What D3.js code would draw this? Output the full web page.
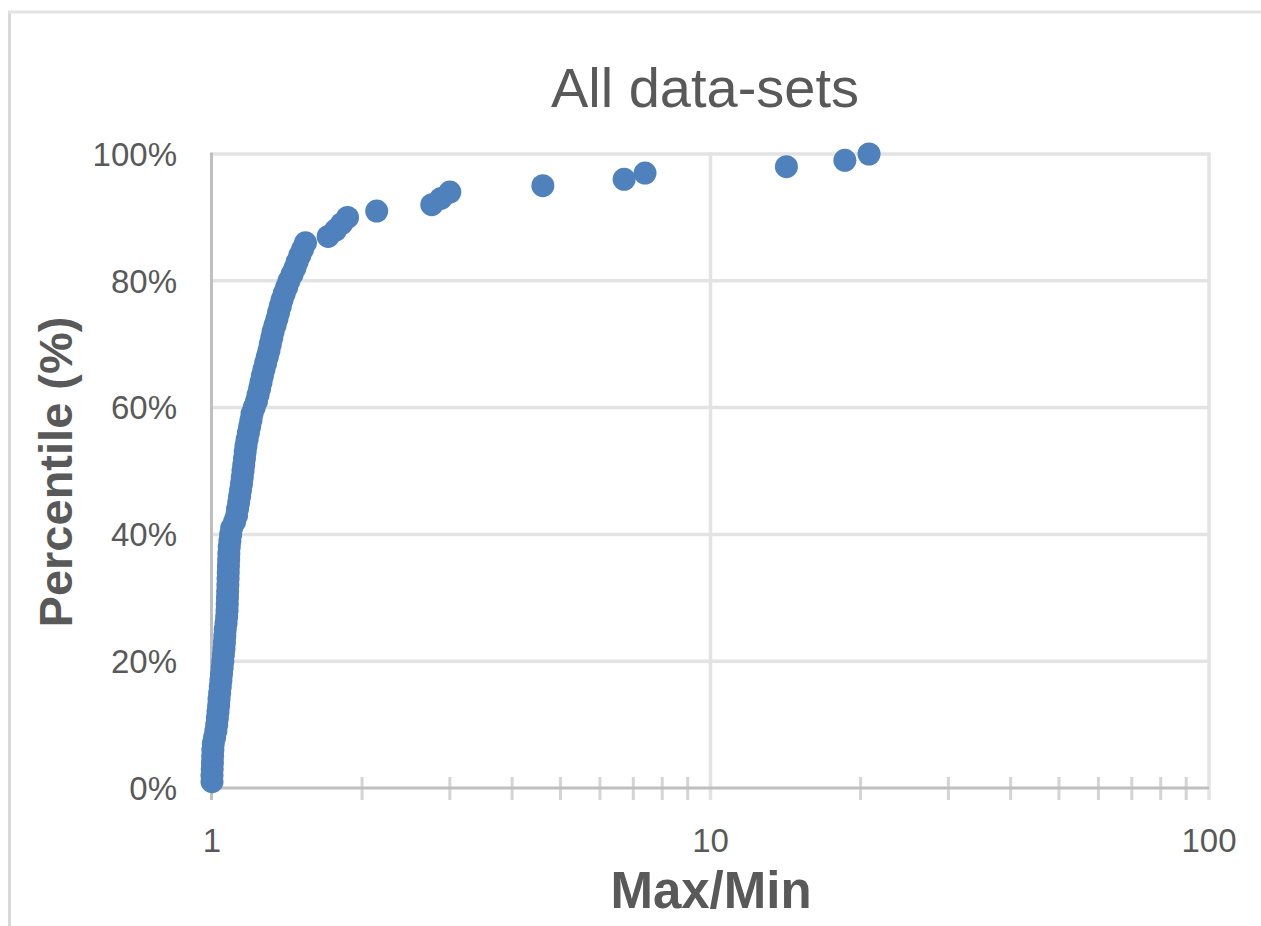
<!DOCTYPE html>
<html>
<head>
<meta charset="utf-8">
<script src="https://cdn.jsdelivr.net/npm/d3@7"></script>
<style>
  html, body { margin: 0; padding: 0; background: #fff; }
  svg { display: block; }
  text { font-family: "Liberation Sans", Arial, sans-serif; fill: #595959; }
</style>
</head>
<body>
<svg id="chart" width="1261" height="926"></svg>
<script>
// ---- Data ----
const chartTitle = "All data-sets";
const xAxisTitle = "Max/Min";
const yAxisTitle = "Percentile (%)";

// Percentile (fraction) of each data-set
const percentiles = [
  0.01,0.02,0.03,0.04,0.05,0.06,0.07,0.08,0.09,0.10,
  0.11,0.12,0.13,0.14,0.15,0.16,0.17,0.18,0.19,0.20,
  0.21,0.22,0.23,0.24,0.25,0.26,0.27,0.28,0.29,0.30,
  0.31,0.32,0.33,0.34,0.35,0.36,0.37,0.38,0.39,0.40,
  0.41,0.42,0.43,0.44,0.45,0.46,0.47,0.48,0.49,0.50,
  0.51,0.52,0.53,0.54,0.55,0.56,0.57,0.58,0.59,0.60,
  0.61,0.62,0.63,0.64,0.65,0.66,0.67,0.68,0.69,0.70,
  0.71,0.72,0.73,0.74,0.75,0.76,0.77,0.78,0.79,0.80,
  0.81,0.82,0.83,0.84,0.85,0.86,0.87,0.88,0.89,0.90,
  0.91,0.92,0.93,0.94,0.95,0.96,0.97,0.98,0.99,1.00
];
// Max/Min ratio of each data-set
const maxMinRatios = [
  1.000,1.000,1.001,1.002,1.003,1.004,1.006,1.012,1.018,1.022,
  1.025,1.028,1.031,1.033,1.036,1.039,1.042,1.045,1.048,1.051,
  1.054,1.057,1.059,1.061,1.063,1.067,1.070,1.072,1.073,1.074,
  1.075,1.076,1.077,1.078,1.079,1.080,1.081,1.083,1.086,1.090,
  1.095,1.110,1.120,1.125,1.131,1.136,1.141,1.146,1.150,1.154,
  1.158,1.162,1.166,1.170,1.176,1.183,1.190,1.197,1.203,1.215,
  1.228,1.237,1.246,1.254,1.262,1.271,1.281,1.291,1.301,1.309,
  1.318,1.326,1.338,1.350,1.360,1.371,1.382,1.396,1.412,1.427,
  1.447,1.467,1.482,1.500,1.520,1.540,1.710,1.770,1.820,1.870,
  2.140,2.760,2.880,3.000,4.610,6.710,7.390,14.20,18.60,20.80
];

const xMajorTicks = [1, 10, 100];
const yTicks = [0, 0.2, 0.4, 0.6, 0.8, 1.0];

// ---- Layout ----
const svg = d3.select("#chart");
const pL = 212, pR = 1209, pT = 154, pB = 788;

const x = d3.scaleLog().domain([1, 100]).range([pL, pR]);
const y = d3.scaleLinear().domain([0, 1]).range([pB, pT]);

// outer chart border (left + top)
svg.append("line").attr("x1", 9.5).attr("x2", 9.5).attr("y1", 11).attr("y2", 926)
  .attr("stroke", "#d9d9d9").attr("stroke-width", 3);
svg.append("line").attr("x1", 8).attr("x2", 1261).attr("y1", 12).attr("y2", 12)
  .attr("stroke", "#e3e3e3").attr("stroke-width", 3);

// horizontal gridlines
svg.append("g").selectAll("line")
  .data(yTicks.filter(d => d > 0))
  .join("line")
  .attr("x1", pL).attr("x2", pR)
  .attr("y1", d => y(d)).attr("y2", d => y(d))
  .attr("stroke", "#e3e3e3").attr("stroke-width", 3.5);

// vertical major gridlines (10, 100)
svg.append("g").selectAll("line")
  .data(xMajorTicks.filter(d => d > 1))
  .join("line")
  .attr("x1", d => x(d)).attr("x2", d => x(d))
  .attr("y1", pT - 1.5).attr("y2", pB + 12)
  .attr("stroke", "#e3e3e3").attr("stroke-width", 3.5);

// minor ticks crossing the x axis
const minorTicks = x.ticks().filter(d => !xMajorTicks.includes(d));
svg.append("g").selectAll("line")
  .data(minorTicks)
  .join("line")
  .attr("x1", d => x(d)).attr("x2", d => x(d))
  .attr("y1", pB - 11).attr("y2", pB + 12)
  .attr("stroke", "#d4d4d4").attr("stroke-width", 3);

// x axis line
svg.append("line").attr("x1", pL).attr("x2", pR)
  .attr("y1", pB).attr("y2", pB)
  .attr("stroke", "#bfbfbf").attr("stroke-width", 3);
// y axis line
svg.append("line").attr("x1", pL - 0.5).attr("x2", pL - 0.5)
  .attr("y1", pT - 1.5).attr("y2", pB + 12)
  .attr("stroke", "#bfbfbf").attr("stroke-width", 3);

// y tick labels
svg.append("g").selectAll("text")
  .data(yTicks)
  .join("text")
  .attr("x", 177).attr("y", d => y(d))
  .attr("dy", "0.36em")
  .attr("text-anchor", "end")
  .style("font-size", "33px")
  .text(d => d3.format(".0%")(d));

// x tick labels
svg.append("g").selectAll("text")
  .data(xMajorTicks)
  .join("text")
  .attr("x", d => x(d)).attr("y", 852)
  .attr("text-anchor", "middle")
  .style("font-size", "33px")
  .text(d => d3.format("d")(d));

// points
const pts = percentiles.map((p, i) => ({ p, r: maxMinRatios[i] }));
svg.append("g").selectAll("circle")
  .data(pts)
  .join("circle")
  .attr("cx", d => x(d.r))
  .attr("cy", d => y(d.p))
  .attr("r", 11.5)
  .attr("fill", "#4f81bd");

// title
svg.append("text")
  .attr("x", 705).attr("y", 107)
  .attr("text-anchor", "middle")
  .style("font-size", "56px")
  .text(chartTitle);

// x axis title
svg.append("text")
  .attr("x", 711).attr("y", 908)
  .attr("text-anchor", "middle")
  .style("font-size", "51px").style("font-weight", "bold")
  .text(xAxisTitle);

// y axis title
svg.append("text")
  .attr("transform", "translate(72,472) rotate(-90)")
  .attr("text-anchor", "middle")
  .style("font-size", "47px").style("font-weight", "bold")
  .text(yAxisTitle);
</script>
</body>
</html>
